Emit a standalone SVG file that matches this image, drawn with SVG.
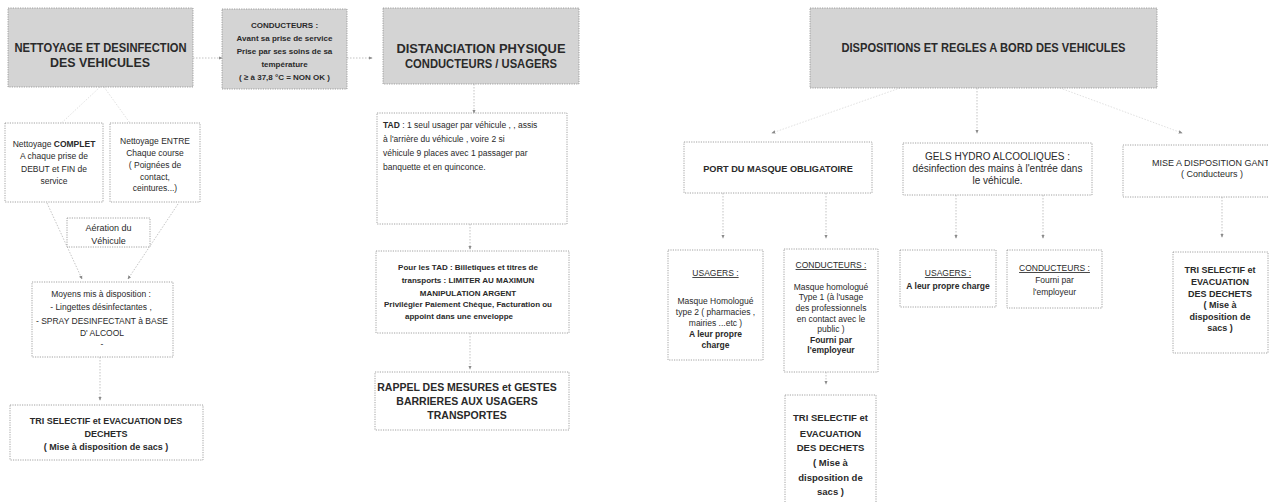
<svg xmlns="http://www.w3.org/2000/svg" width="1284" height="502" viewBox="0 0 1284 502">
<defs>
<style>
text{font-family:"Liberation Sans",Arial,sans-serif;fill:#2a2a2a;text-anchor:middle}
.b{font-weight:bold}
.l{text-anchor:start}
.box{fill:#fff;stroke:#8c8c8c;stroke-width:0.8;stroke-dasharray:1.2 1.2}
.hdr{fill:#d4d4d4;stroke:#8c8c8c;stroke-width:0.8;stroke-dasharray:1.2 1.2}
.c{fill:none;stroke:#ababab;stroke-width:0.7;stroke-dasharray:1.5 1.5;marker-end:url(#ah)}
.f{stroke:#d2d2d2}
.u{text-decoration:underline}
.h{font-size:13px;font-weight:bold}
.s8{font-size:8px}
.s85{font-size:8.5px}
.s9{font-size:9px}
</style>
<marker id="ah" viewBox="0 0 6 6" refX="5" refY="3" markerWidth="4" markerHeight="4" orient="auto" markerUnits="userSpaceOnUse"><path d="M0,0.5 L6,3 L0,5.5z" fill="#8a8a8a"/></marker>
<clipPath id="cm"><rect x="1123" y="140" width="145" height="70"/></clipPath>
</defs>
<rect width="1284" height="502" fill="#fff"/>

<g id="connectors">
<path class="c" d="M193,58 H222"/>
<path class="c" d="M347,58 H372"/>
<path class="c f" d="M100,87 L54,130"/>
<path class="c f" d="M104,87 L135,130"/>
<path class="c" d="M47,203 L82,279"/>
<path class="c" d="M178,204 L128,279"/>
<path class="c" d="M100,357 V400"/>
<path class="c" d="M474,84 V113"/>
<path class="c" d="M470,224 V249"/>
<path class="c" d="M470,333 V369"/>
<path class="c f" d="M900,88 L772,133"/>
<path class="c" d="M977,88 V133"/>
<path class="c f" d="M1060,88 L1182,133"/>
<path class="c" d="M723,193 V238"/>
<path class="c" d="M826,193 V238"/>
<path class="c" d="M956,195 V238"/>
<path class="c" d="M1043,195 V238"/>
<path class="c" d="M1222,197 V237"/>
<path class="c" d="M826,372 V384"/>
</g>

<g id="n-nettoyage">
<rect class="hdr" x="8" y="8" width="185" height="79"/>
<text class="h" x="100.5" y="52" textLength="172" lengthAdjust="spacingAndGlyphs">NETTOYAGE ET DESINFECTION</text>
<text class="h" x="100" y="67" textLength="100" lengthAdjust="spacingAndGlyphs">DES VEHICULES</text>
</g>

<g id="n-temperature">
<rect class="hdr" x="222" y="9" width="125" height="80"/>
<text class="b s8" x="284.5" y="28">CONDUCTEURS :</text>
<text class="b s8" x="284.5" y="41">Avant sa prise de service</text>
<text class="b s8" x="284.5" y="54">Prise par ses soins  de sa</text>
<text class="b s8" x="284.5" y="67">température</text>
<text class="b s8" x="284.5" y="80">( ≥ à 37,8 °C = NON OK )</text>
</g>

<g id="n-distanciation">
<rect class="hdr" x="383" y="8" width="196" height="76"/>
<text class="h" x="481" y="53" textLength="169" lengthAdjust="spacingAndGlyphs">DISTANCIATION PHYSIQUE</text>
<text class="h" x="481" y="68" textLength="152" lengthAdjust="spacingAndGlyphs">CONDUCTEURS / USAGERS</text>
</g>

<g id="n-complet">
<rect class="box" x="5" y="123" width="98" height="79"/>
<text class="s85" x="54" y="147">Nettoyage <tspan class="b">COMPLET</tspan></text>
<text class="s85" x="54" y="159">A chaque prise  de</text>
<text class="s85" x="54" y="172">DEBUT et FIN de</text>
<text class="s85" x="54" y="184">service</text>
</g>

<g id="n-entre">
<rect class="box" x="110" y="123" width="90" height="79"/>
<text class="s85" x="155" y="144">Nettoyage ENTRE</text>
<text class="s85" x="155" y="156">Chaque course</text>
<text class="s85" x="155" y="168">( Poignées de</text>
<text class="s85" x="155" y="180">contact,</text>
<text class="s85" x="155" y="191">ceintures...)</text>
</g>

<g id="n-aeration">
<rect class="box" x="67" y="218" width="83" height="29"/>
<text class="s9" x="108.5" y="231">Aération du</text>
<text class="s9" x="108.5" y="244">Véhicule</text>
</g>

<g id="n-moyens">
<rect class="box" x="32" y="282" width="141" height="75"/>
<text class="s85" x="101" y="297">Moyens mis à disposition :</text>
<text class="s85" x="101" y="310">- Lingettes désinfectantes ,</text>
<text class="s85" x="102" y="324">-    SPRAY DESINFECTANT à BASE</text>
<text class="s85" x="102" y="336">D' ALCOOL</text>
<text class="s85" x="102" y="347">-</text>
</g>

<g id="n-tri-1">
<rect class="box" x="10" y="405" width="193" height="55"/>
<text class="b s9" x="106" y="424">TRI SELECTIF  et EVACUATION DES</text>
<text class="b s9" x="106" y="437">DECHETS</text>
<text class="b s9" x="106" y="450">( Mise à disposition de sacs )</text>
</g>

<g id="n-tad">
<rect class="box" x="377" y="113" width="190" height="111"/>
<text class="s85 l" x="383" y="128"><tspan class="b">TAD</tspan> : 1 seul usager par véhicule , , assis</text>
<text class="s85 l" x="383" y="142">à l'arrière du véhicule , voire 2 si</text>
<text class="s85 l" x="383" y="156">véhicule 9 places avec 1 passager par</text>
<text class="s85 l" x="383" y="170">banquette et en quinconce.</text>
</g>

<g id="n-billetique">
<rect class="box" x="376" y="251" width="193" height="82"/>
<text class="b s8" x="468" y="270">Pour les TAD  : Billetiques et  titres de</text>
<text class="b s8" x="468" y="283">transports : LIMITER AU MAXIMUN</text>
<text class="b s8" x="468" y="296">MANIPULATION ARGENT</text>
<text class="b s8" x="468" y="307">Privilégier Paiement Chèque, Facturation ou</text>
<text class="b s8" x="459" y="319">appoint dans une enveloppe</text>
</g>

<g id="n-rappel">
<rect class="box" x="375" y="372" width="194" height="58"/>
<text class="b" font-size="10.5" x="467" y="391">RAPPEL DES MESURES  et GESTES</text>
<text class="b" font-size="10.5" x="467" y="405">BARRIERES AUX USAGERS</text>
<text class="b" font-size="10.5" x="467" y="419">TRANSPORTES</text>
</g>

<g id="n-dispositions">
<rect class="hdr" x="810" y="8" width="347" height="80"/>
<text class="h" x="983.5" y="52" textLength="284" lengthAdjust="spacingAndGlyphs">DISPOSITIONS ET REGLES A BORD DES VEHICULES</text>
</g>

<g id="n-masque">
<rect class="box" x="684" y="142" width="188" height="51"/>
<text class="b" font-size="9.2" x="778" y="172">PORT DU MASQUE OBLIGATOIRE</text>
</g>

<g id="n-gels">
<rect class="box" x="903" y="143" width="189" height="52"/>
<text font-size="10" x="997.5" y="160">GELS HYDRO ALCOOLIQUES  :</text>
<text font-size="10" x="997.5" y="172">désinfection des mains à l'entrée dans</text>
<text font-size="10" x="997.5" y="184">le véhicule.</text>
</g>

<g id="n-gants">
<path class="box" d="M1268,145 H1123 V197 H1268"/>
<g clip-path="url(#cm)">
<text class="s9 l" x="1152" y="166">MISE  A DISPOSITION GANTS</text>
</g>
<text class="s9" x="1212" y="177">( Conducteurs )</text>
</g>

<g id="n-masque-usagers">
<rect class="box" x="668" y="250" width="95" height="110"/>
<text class="s85 u" x="715.5" y="276">USAGERS :</text>
<text class="s85" x="715.5" y="304">Masque Homologué</text>
<text class="s85" x="715.5" y="315">type 2 ( pharmacies ,</text>
<text class="s85" x="715.5" y="326">mairies ...etc )</text>
<text class="s85 b" x="715.5" y="337">A leur propre</text>
<text class="s85 b" x="715.5" y="348">charge</text>
</g>

<g id="n-masque-conducteurs">
<rect class="box" x="784" y="249" width="94" height="123"/>
<text class="s85 u" x="831" y="268">CONDUCTEURS :</text>
<text class="s85" x="831" y="290">Masque homologué</text>
<text class="s85" x="831" y="300">Type 1  (à l'usage</text>
<text class="s85" x="831" y="311">des professionnels</text>
<text class="s85" x="831" y="322">en contact avec le</text>
<text class="s85" x="831" y="332">public )</text>
<text class="s85 b" x="831" y="343">Fourni par</text>
<text class="s85 b" x="831" y="353">l'employeur</text>
</g>

<g id="n-tri-2">
<rect class="box" x="785" y="395" width="91" height="115"/>
<text class="b" font-size="9.5" x="830.5" y="421">TRI SELECTIF  et</text>
<text class="b" font-size="9.5" x="830.5" y="437">EVACUATION</text>
<text class="b" font-size="9.5" x="830.5" y="451">DES DECHETS</text>
<text class="b" font-size="9.5" x="830.5" y="466">( Mise à</text>
<text class="b" font-size="9.5" x="830.5" y="481">disposition de</text>
<text class="b" font-size="9.5" x="830.5" y="495">sacs )</text>
</g>

<g id="n-gels-usagers">
<rect class="box" x="900" y="250" width="96" height="57"/>
<text class="s85 u" x="948" y="276">USAGERS :</text>
<text class="s85 b" x="948" y="289">A leur propre charge</text>
</g>

<g id="n-gels-conducteurs">
<rect class="box" x="1007" y="250" width="95" height="58"/>
<text class="s85 u" x="1054.5" y="271">CONDUCTEURS :</text>
<text class="s85" x="1054.5" y="283">Fourni par</text>
<text class="s85" x="1054.5" y="295">l'employeur</text>
</g>

<g id="n-tri-3">
<rect class="box" x="1173" y="252" width="95" height="101"/>
<text class="b s9" x="1220" y="273">TRI SELECTIF  et</text>
<text class="b s9" x="1220" y="285">EVACUATION</text>
<text class="b s9" x="1220" y="297">DES DECHETS</text>
<text class="b s9" x="1220" y="308">( Mise à</text>
<text class="b s9" x="1220" y="320">disposition de</text>
<text class="b s9" x="1220" y="331">sacs )</text>
</g>
</svg>
